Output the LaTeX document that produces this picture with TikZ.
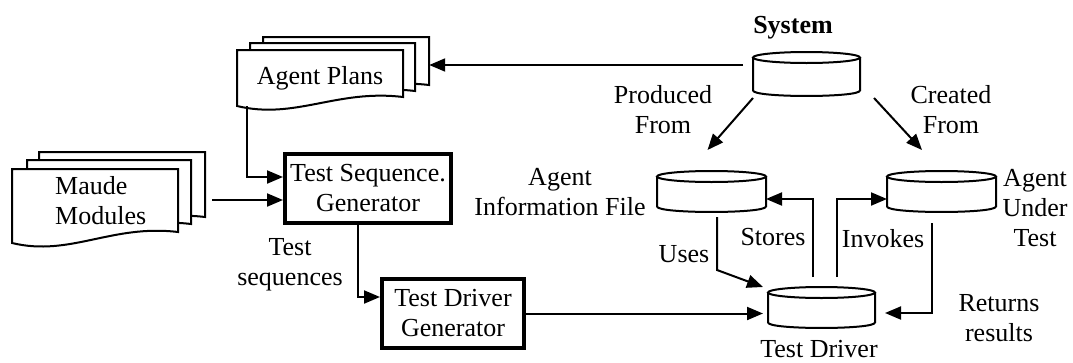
\documentclass[tikz,border=0pt]{standalone}
\usepackage{fontspec}
\setmainfont{Liberation Serif}
\usetikzlibrary{arrows.meta,calc}
\tikzset{
  every node/.style={font=\fontsize{26}{30}\selectfont, inner sep=0pt},
  arr/.style={line width=2pt, -{Triangle[length=16pt,width=13pt]}},
  procbox/.style={draw, line width=4pt, align=center},
  docst/.style={draw, fill=white, line width=2pt},
  cylst/.style={line width=2pt},
  lbl/.style={align=center},
}
\newcommand\docshape[5]{%
  \draw[docst] (#1,#2) -- (#3,#2) -- (#3,#5) .. controls ({#1+0.6*(#3-#1)},{#5-8}) and ({#1+0.35*(#3-#1)},{#4+14}) .. (#1,#4) -- cycle;}
\newcommand\cylnode[5]{%
  \node[minimum width=#4pt, minimum height=#5pt, outer sep=0pt] (#1) at (#2,#3) {};
  \draw[cylst] ($(#1.north west)+(0,5.5)$) -- ($(#1.south west)+(0,-5.5)$) .. controls ($(#1.south west)+(0,1.8)$) and ($(#1.south east)+(0,1.8)$) .. ($(#1.south east)+(0,-5.5)$) -- ($(#1.north east)+(0,5.5)$);
  \draw[cylst] ($(#1.north)+(0,5.5)$) ellipse [x radius=#4pt/2, y radius=5.5pt];}
\begin{document}
\begin{tikzpicture}[x=1pt,y=-1pt]
\useasboundingbox (0,0) rectangle (1073,362);
% document stacks
\docshape{39}{152}{205}{228}{217}
\docshape{27}{160}{191}{235}{224}
\docshape{12}{169}{178}{243}{232}
\node[minimum width=193pt, minimum height=96pt] (maude) at (108.5,200) {};
\node[anchor=west, align=left] (maudetxt) at (55,200.5) {Maude\\Modules};
\docshape{263}{37}{429}{96}{85}
\docshape{250}{43}{415}{102}{91}
\docshape{237}{50}{403}{106}{97}
\node[minimum width=166pt, minimum height=48pt] (plansb) at (346,61) {};
\node[minimum width=166pt, minimum height=56pt] (plansf) at (320,78) {Agent Plans};
% process boxes
\node[procbox, minimum width=166pt, minimum height=69pt] (tsg) at (368,188.5) {Test Sequence.\\Generator};
\node[procbox, minimum width=142pt, minimum height=69pt] (tdg) at (453,313.5) {Test Driver\\Generator};
% cylinders
\cylnode{sys}{806.5}{74}{107}{44}
\cylnode{aif}{711.5}{191.5}{109}{41}
\cylnode{aut}{941.5}{191.5}{109}{41}
\cylnode{td}{821.5}{307.5}{107}{41}
% labels
\node[anchor=base, font=\bfseries\fontsize{26}{30}\selectfont] (syslbl) at (793,33) {System};
\node[lbl] (l1) at (663,110) {Produced\\From};
\node[lbl] (l2) at (951,110) {Created\\From};
\node[lbl] (l3) at (560,192) {Agent\\Information File};
\node[lbl] (l4) at (1035,208.5) {Agent\\Under\\Test};
\node[lbl] (l5) at (290,264.5) {Test\\sequences};
\node[anchor=base] (l6) at (684,262) {Uses};
\node[anchor=base] (l7) at (773,245) {Stores};
\node[anchor=base] (l8) at (883,247) {Invokes};
\node[lbl] (l9) at (999,318) {Returns\\results};
\node[anchor=base] (l10) at (819,357) {Test Driver};
% connectors
\draw[arr] ($(sys.west |- plansb.east)+(-10,4)$) -- ($(plansb.east)+(0,4)$);
\draw[arr] ($(sys.south west)+(0,2)$) -- ($(aif.north)+(-4,-21)$);
\draw[arr] ($(sys.south east)+(14,2)$) -- ($(aut.north)+(-19.5,-21)$);
\draw[arr] ($(plansf.south west)+(10,0)$) |- ($(tsg.west)+(0,-11.5)$);
\draw[arr] ($(maude.east |- tsg.west)+(7,11.5)$) -- ($(tsg.west)+(0,11.5)$);
\draw[arr] ($(tsg.south)+(-10,0)$) |- ($(tdg.west)+(0,-16.5)$);
\draw[arr] (tdg.east) -- ($(tdg.east -| td.west)+(-5,0)$);
\draw[arr] ($(aif.south)+(5.5,5)$) -- ++(0,53) -- ($(td.north west)+(-5,0)$);
\draw[arr] ($(td.north)+(-8.5,-10)$) |- ($(aif.east)+(0,7.5)$);
\draw[arr] ($(td.north)+(15.5,-10)$) |- ($(aut.west)+(0,7.5)$);
\draw[arr] ($(aut.south)+(-9.5,11)$) |- ($(td.east)+(10,5.5)$);
\end{tikzpicture}
\end{document}
